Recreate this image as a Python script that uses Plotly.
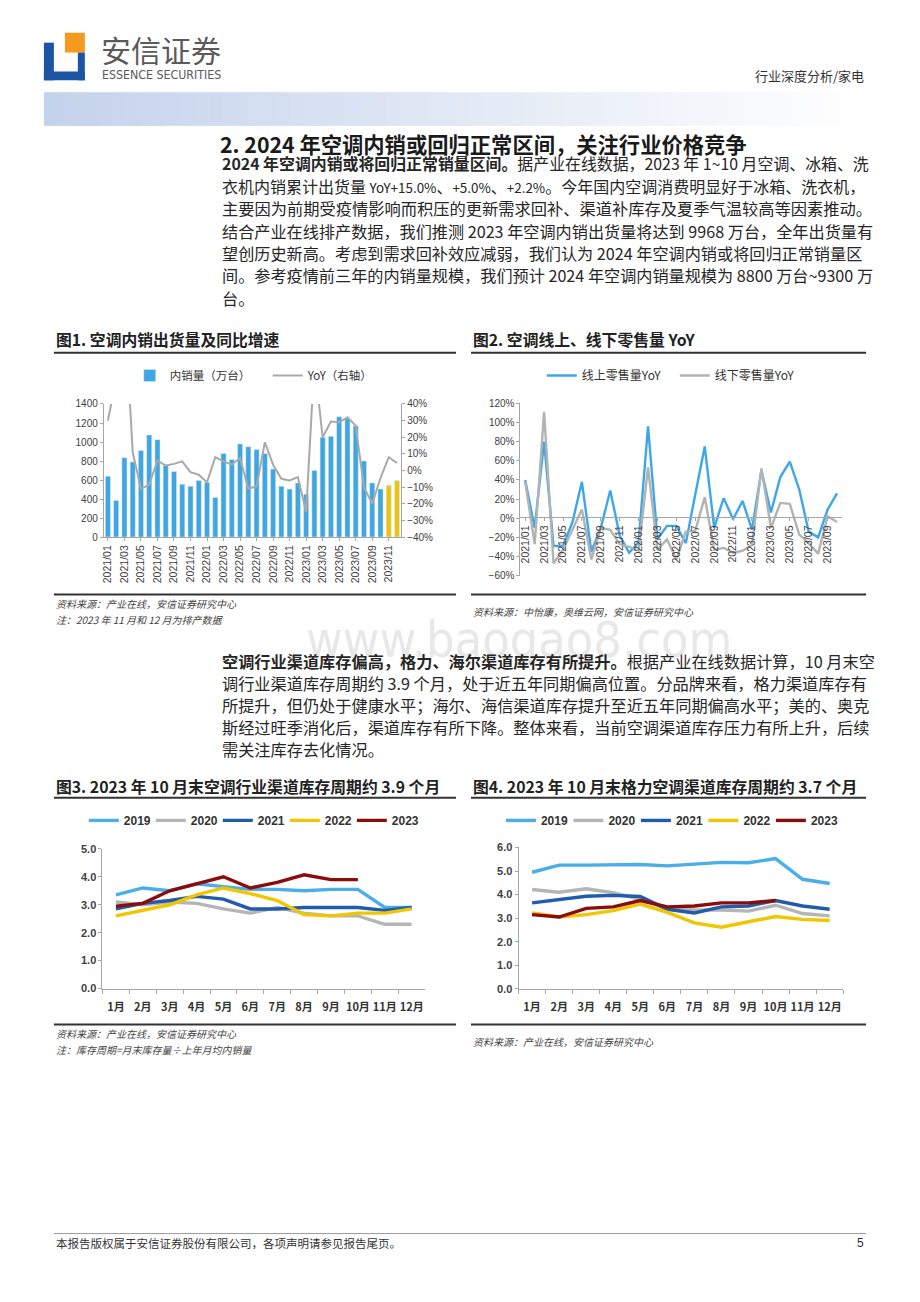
import plotly.graph_objects as go

W, H = 920, 1302
def px(x): return x / W
def py(y): return 1 - y / H

# ---------------- data ----------------
# Fig 1: domestic AC shipments (10k units) and YoY (%)
months_c1 = ["2021/01", "2021/02", "2021/03", "2021/04", "2021/05", "2021/06",
             "2021/07", "2021/08", "2021/09", "2021/10", "2021/11", "2021/12",
             "2022/01", "2022/02", "2022/03", "2022/04", "2022/05", "2022/06",
             "2022/07", "2022/08", "2022/09", "2022/10", "2022/11", "2022/12",
             "2023/01", "2023/02", "2023/03", "2023/04", "2023/05", "2023/06",
             "2023/07", "2023/08", "2023/09", "2023/10", "2023/11", "2023/12"]
sales_c1 = [640, 385, 835, 790, 910, 1075, 1025, 755, 690, 555, 535, 595,
            575, 415, 880, 815, 980, 950, 920, 880, 715, 535, 505, 570,
            450, 700, 1050, 1060, 1265, 1250, 1170, 800, 570, 505, 545, 595]
forecast_months_c1 = ["2023/11", "2023/12"]
yoy_c1 = [30, 55, 100, 11, -11, -8.5, 6, 3, 4, 5.5, -1, -2.5,
          -7, 8, 5.5, 3.5, 7.5, -11, -9.5, 17, 3.5, -5, -6, -4,
          -25, 65, 20, 29.5, 29, 32, 27, -10, -20, -4.5, 8, 4.5]
ticks_c1 = ["2021/01", "2021/03", "2021/05", "2021/07", "2021/09", "2021/11",
            "2022/01", "2022/03", "2022/05", "2022/07", "2022/09", "2022/11",
            "2023/01", "2023/03", "2023/05", "2023/07", "2023/09", "2023/11"]

# Fig 2: online / offline retail volume YoY (%)
months_c2 = ["2021/01", "2021/02", "2021/03", "2021/04", "2021/05", "2021/06",
             "2021/07", "2021/08", "2021/09", "2021/10", "2021/11", "2021/12",
             "2022/01", "2022/02", "2022/03", "2022/04", "2022/05", "2022/06",
             "2022/07", "2022/08", "2022/09", "2022/10", "2022/11", "2022/12",
             "2023/01", "2023/02", "2023/03", "2023/04", "2023/05", "2023/06",
             "2023/07", "2023/08", "2023/09", "2023/10"]
online_c2 = [40, -10, 80, -29, -29, -4, 38, -35, -10, 29, -18, -36,
             -25, 96, -22, -8, -8, -26, 25, 75, -10, 21, -1, 18,
             -12, 50, 6, 43, 59, 30, -14, -20, 9, 26]
offline_c2 = [38, -27, 111, -47, -33, -12, 9, -43, -10, -12, -27, -30,
              -34, 53, -33, -22, -43, -14, -13, 22, -33, -31, -36, -34,
              -28, 52, -10, 16, 15, -17, -26, -37, 2, -4]
ticks_c2 = ["2021/01", "2021/03", "2021/05", "2021/07", "2021/09", "2021/11",
            "2022/01", "2022/03", "2022/05", "2022/07", "2022/09", "2022/11",
            "2023/01", "2023/03", "2023/05", "2023/07", "2023/09"]

# Fig 3 / Fig 4: channel inventory cycle (months)
month_labels = ["1月", "2月", "3月", "4月", "5月", "6月", "7月", "8月", "9月", "10月", "11月", "12月"]
years = ["2019", "2020", "2021", "2022", "2023"]
ind_2019 = [3.35, 3.6, 3.5, 3.75, 3.65, 3.55, 3.55, 3.5, 3.55, 3.55, 2.9, 2.9]
ind_2020 = [3.1, 3.0, 3.1, 3.05, 2.85, 2.7, 2.9, 2.7, 2.6, 2.6, 2.3, 2.3]
ind_2021 = [2.85, 3.05, 3.15, 3.3, 3.2, 2.85, 2.85, 2.9, 2.9, 2.9, 2.8, 2.9]
ind_2022 = [2.6, 2.8, 3.0, 3.35, 3.6, 3.4, 3.15, 2.65, 2.6, 2.7, 2.7, 2.85]
ind_2023 = [2.95, 3.05, 3.5, 3.75, 4.0, 3.6, 3.8, 4.07, 3.9, 3.9]
gree_2019 = [4.95, 5.25, 5.25, 5.25, 5.28, 5.22, 5.3, 5.37, 5.35, 5.53, 4.65, 4.47]
gree_2020 = [4.22, 4.1, 4.25, 4.08, 3.8, 3.4, 3.35, 3.35, 3.3, 3.55, 3.2, 3.1]
gree_2021 = [3.65, 3.8, 3.93, 3.97, 3.92, 3.38, 3.22, 3.48, 3.52, 3.75, 3.52, 3.38]
gree_2022 = [3.22, 3.05, 3.15, 3.32, 3.6, 3.25, 2.8, 2.62, 2.85, 3.07, 2.95, 2.9]
gree_2023 = [3.15, 3.05, 3.42, 3.48, 3.75, 3.48, 3.52, 3.65, 3.65, 3.75]

# ---------------- styles ----------------
CJK = "Noto Sans CJK SC"
LAT = "Liberation Sans, Arial"
AX = "#a6a6a6"
TXT = "#262626"
BLUE_BAR = "#3fa6e2"
YELLOW_BAR = "#e8c414"
year_colors = ["#4aaeea", "#b5b5b5", "#1f5cab", "#f0c600", "#8c0b0b"]

fig = go.Figure()

# ---- Fig 1 ----
actual_x = [m for m in months_c1 if m not in forecast_months_c1]
actual_y = [v for m, v in zip(months_c1, sales_c1) if m not in forecast_months_c1]
fc_y = [v for m, v in zip(months_c1, sales_c1) if m in forecast_months_c1]
fig.add_trace(go.Bar(x=actual_x, y=actual_y, name="内销量（万台）", marker_color=BLUE_BAR,
                     xaxis="x", yaxis="y", legend="legend", width=0.62))
fig.add_trace(go.Bar(x=forecast_months_c1, y=fc_y, name="排产", marker_color=YELLOW_BAR,
                     xaxis="x", yaxis="y", showlegend=False, width=0.62))
fig.add_trace(go.Scatter(x=months_c1, y=yoy_c1, name="YoY（右轴）", mode="lines",
                         line=dict(color="#a9a9a9", width=2), xaxis="x", yaxis="y2", legend="legend"))

# ---- Fig 2 ----
fig.add_trace(go.Scatter(x=months_c2, y=online_c2, name="线上零售量YoY", mode="lines",
                         line=dict(color="#3ea7ea", width=2.4), xaxis="x2", yaxis="y3", legend="legend2"))
fig.add_trace(go.Scatter(x=months_c2, y=offline_c2, name="线下零售量YoY", mode="lines",
                         line=dict(color="#b3b3b3", width=2.4), xaxis="x2", yaxis="y3", legend="legend2"))

# ---- Fig 3 ----
ind_series = [ind_2019, ind_2020, ind_2021, ind_2022, ind_2023]
for yr, vals, col in zip(years, ind_series, year_colors):
    fig.add_trace(go.Scatter(x=month_labels[:len(vals)], y=vals, name=yr, mode="lines",
                             line=dict(color=col, width=3.4), xaxis="x3", yaxis="y4", legend="legend3"))
# ---- Fig 4 ----
gree_series = [gree_2019, gree_2020, gree_2021, gree_2022, gree_2023]
for yr, vals, col in zip(years, gree_series, year_colors):
    fig.add_trace(go.Scatter(x=month_labels[:len(vals)], y=vals, name=yr, mode="lines",
                             line=dict(color=col, width=3.4), xaxis="x4", yaxis="y5", legend="legend4"))

tickf = dict(family=LAT, size=10, color="#404040")
tickx = dict(family=LAT, size=10.5, color="#404040")
tickf_b = dict(family=LAT, size=11, color="#404040", weight="bold")
month_font = dict(family=CJK, size=11, color="#333333", weight="bold")
base_ax = dict(showline=True, linecolor=AX, linewidth=1, showgrid=False, zeroline=False,
               ticks="outside", tickcolor=AX, ticklen=3)

layout_axes = dict(
    xaxis=dict(base_ax, domain=[px(102), px(400)], anchor="y", type="category",
               categoryorder="array", categoryarray=months_c1, range=[-0.5, 35.5],
               tickvals=ticks_c1, ticktext=ticks_c1, tickangle=-90, tickfont=tickx, ticklen=3),
    yaxis=dict(base_ax, domain=[py(536), py(401.7)], anchor="x", range=[0, 1400], dtick=200,
               tickfont=tickf),
    yaxis2=dict(base_ax, overlaying="y", side="right", anchor="x", range=[-40, 40], dtick=10,
                ticksuffix="%", tickfont=tickf),
    xaxis2=dict(base_ax, domain=[px(519.6), px(841.6)], anchor="free", position=py(516),
                type="category", categoryorder="array", categoryarray=months_c2, range=[-0.5, 33.5],
                tickvals=ticks_c2, ticktext=ticks_c2, tickangle=-90, tickfont=tickx),
    yaxis3=dict(base_ax, domain=[py(575), py(401)], anchor="x2", range=[-60, 120], dtick=20,
                ticksuffix="%", tickfont=tickf),
    xaxis3=dict(base_ax, domain=[px(100.7), px(424)], anchor="y4", type="category",
                categoryorder="array", categoryarray=month_labels, range=[-0.5, 11.5],
                tickson="boundaries", ticklen=4, tickangle=0, tickfont=month_font,
                ticklabelstandoff=8),
    yaxis4=dict(base_ax, domain=[py(991.7), py(850.7)], anchor="x3", range=[0, 5], dtick=1,
                tickformat=".1f", tickfont=tickf_b),
    xaxis4=dict(base_ax, domain=[px(517.7), px(843)], anchor="y5", type="category",
                categoryorder="array", categoryarray=month_labels, range=[-0.5, 11.5],
                tickson="boundaries", ticklen=4, tickangle=0, tickfont=month_font,
                ticklabelstandoff=8),
    yaxis5=dict(base_ax, domain=[py(992.1), py(849.3)], anchor="x4", range=[0, 6], dtick=1,
                tickformat=".1f", tickfont=tickf_b),
)

leg_base = dict(orientation="h", xanchor="left", yanchor="middle", bgcolor="rgba(0,0,0,0)",
                itemwidth=30, traceorder="normal")
legends = dict(
    legend=dict(leg_base, x=px(128), y=py(373), entrywidth=93,
                font=dict(family=CJK, size=11.5, color="#333")),
    legend2=dict(leg_base, x=px(541), y=py(373), entrywidth=88,
                 font=dict(family=CJK, size=12, color="#333")),
    legend3=dict(leg_base, x=px(82), y=py(822), entrywidth=22,
                 font=dict(family=LAT, size=12, color="#333", weight="bold")),
    legend4=dict(leg_base, x=px(500), y=py(822), entrywidth=22.5,
                 font=dict(family=LAT, size=12, color="#333", weight="bold")),
)

shapes = []
# header gradient band
n = 60
x0, x1 = 42, 866
for i in range(n):
    t = i / (n - 1)
    r = int(196 + (255 - 196) * t)
    g = int(211 + (255 - 211) * t)
    b = int(236 + (255 - 236) * t)
    shapes.append(dict(type="rect", xref="paper", yref="paper",
                       x0=px(x0 + (x1 - x0) * i / n), x1=px(x0 + (x1 - x0) * (i + 1) / n + 0.5),
                       y0=py(121), y1=py(87), fillcolor=f"rgb({r},{g},{b})", line_width=0, layer="below"))
# logo
LOGO_BLUE = "#1c55a3"
LOGO_OR = "#f39a1f"
def rect(xa, ya, xb, yb, col):
    return dict(type="rect", xref="paper", yref="paper", x0=px(xa), x1=px(xb),
                y0=py(yb), y1=py(ya), fillcolor=col, line_width=0)
shapes += [rect(63, 27, 83, 47, LOGO_OR),
           rect(42, 37, 52, 75, LOGO_BLUE),
           rect(42, 66, 83, 75, LOGO_BLUE),
           rect(76, 47, 83, 75, LOGO_BLUE)]
def hline(y, xa, xb, col="#333333", w=2):
    return dict(type="line", xref="paper", yref="paper", x0=px(xa), x1=px(xb),
                y0=py(y), y1=py(y), line=dict(color=col, width=w))
shapes += [hline(350, 52, 455), hline(350, 470, 866),
           hline(594, 52, 455), hline(594, 470, 866),
           hline(799, 52, 455), hline(799, 470, 866),
           hline(1028, 52, 455), hline(1028, 470, 866),
           hline(1239, 52, 866, "#999999", 1)]

annots = []
def txt(x, y, s, size=16, color=TXT, anchor="left", family=CJK, **kw):
    annots.append(dict(x=px(x), y=py(y), xref="paper", yref="paper", text=s, showarrow=False,
                       xanchor=anchor, yanchor="middle", font=dict(family=family, size=size, color=color), **kw))

# watermark (drawn first, behind other texts)
txt(518, 640, "www.baogao8.com", size=50, color="rgba(205,205,205,0.45)", anchor="center",
    family="Liberation Sans Narrow, DejaVu Sans Condensed, Liberation Sans")

# header texts
txt(97, 43, "安信证券", size=30, color="#5a5a5a")
txt(98, 70, "ESSENCE SECURITIES", size=12.3, color="#5a5a5a",
    family="Liberation Sans Narrow, DejaVu Sans Condensed, Roboto")
txt(866, 70, "行业深度分析/家电", size=13, color="#333333", anchor="right")

# section title
txt(216, 139, "<b>2. 2024 年空调内销或回归正常区间，关注行业价格竞争</b>", size=21.3, color="#1a1a1a")

SMALL = '<span style="font-size:13.4px">'
para1 = [
    ("<b>2024 年空调内销或将回归正常销量区间。</b>据产业在线数据，2023 年 1~10 月空调、冰箱、洗", 15.9),
    ("衣机内销累计出货量 " + SMALL + "YoY+15.0%</span>、" + SMALL + "+5.0%</span>、" + SMALL
     + "+2.2%</span>。今年国内空调消费明显好于冰箱、洗衣机，", 16),
    ("主要因为前期受疫情影响而积压的更新需求回补、渠道补库存及夏季气温较高等因素推动。", 16.25),
    ("结合产业在线排产数据，我们推测 2023 年空调内销出货量将达到 9968 万台，全年出货量有", 16.15),
    ("望创历史新高。考虑到需求回补效应减弱，我们认为 2024 年空调内销或将回归正常销量区", 16.15),
    ("间。参考疫情前三年的内销量规模，我们预计 2024 年空调内销量规模为 8800 万台~9300 万", 16.15),
    ("台。", 16.15),
]
for i, (line, sz) in enumerate(para1):
    txt(218, 159 + 22.6 * i, line, size=sz)

para2 = [
    "<b>空调行业渠道库存偏高，格力、海尔渠道库存有所提升。</b>根据产业在线数据计算，10 月末空",
    "调行业渠道库存周期约 3.9 个月，处于近五年同期偏高位置。分品牌来看，格力渠道库存有",
    "所提升，但仍处于健康水平；海尔、海信渠道库存提升至近五年同期偏高水平；美的、奥克",
    "斯经过旺季消化后，渠道库存有所下降。整体来看，当前空调渠道库存压力有所上升，后续",
    "需关注库存去化情况。",
]
for i, line in enumerate(para2):
    txt(218, 661 + 22.2 * i, line, size=16.2)

# figure titles
TS = 15.8
txt(52, 337, "<b>图1. 空调内销出货量及同比增速</b>", size=TS, color="#222")
txt(470, 337, "<b>图2. 空调线上、线下零售量 YoY</b>", size=TS, color="#222")
txt(52, 788, "<b>图3. 2023 年 10 月末空调行业渠道库存周期约 3.9 个月</b>", size=TS, color="#222")
txt(470, 788, "<b>图4. 2023 年 10 月末格力空调渠道库存周期约 3.7 个月</b>", size=TS, color="#222")

# sources
src = dict(size=10, color="#444444")
txt(52, 603, "<i>资料来源：产业在线，安信证券研究中心</i>", **src)
txt(52, 619, "<i>注：2023 年 11 月和 12 月为排产数据</i>", **src)
txt(470, 611, "<i>资料来源：中怡康，奥维云网，安信证券研究中心</i>", **src)
txt(52, 1037, "<i>资料来源：产业在线，安信证券研究中心</i>", **src)
txt(52, 1053, "<i>注：库存周期=月末库存量÷上年月均内销量</i>", **src)
txt(470, 1045, "<i>资料来源：产业在线，安信证券研究中心</i>", **src)

# footer
txt(52, 1249, "本报告版权属于安信证券股份有限公司，各项声明请参见报告尾页。", size=11.5, color="#333")
txt(866, 1249, "5", size=12, color="#333", anchor="right", family=LAT)

fig.update_layout(
    width=W, height=H, margin=dict(l=0, r=0, t=0, b=0),
    paper_bgcolor="white", plot_bgcolor="rgba(0,0,0,0)",
    barmode="overlay", showlegend=True,
    shapes=shapes, annotations=annots,
    **layout_axes, **legends,
)

fig.write_html("out.html", config={"displayModeBar": False},
               post_script="document.body.style.margin='0';document.body.style.overflow='hidden';")
